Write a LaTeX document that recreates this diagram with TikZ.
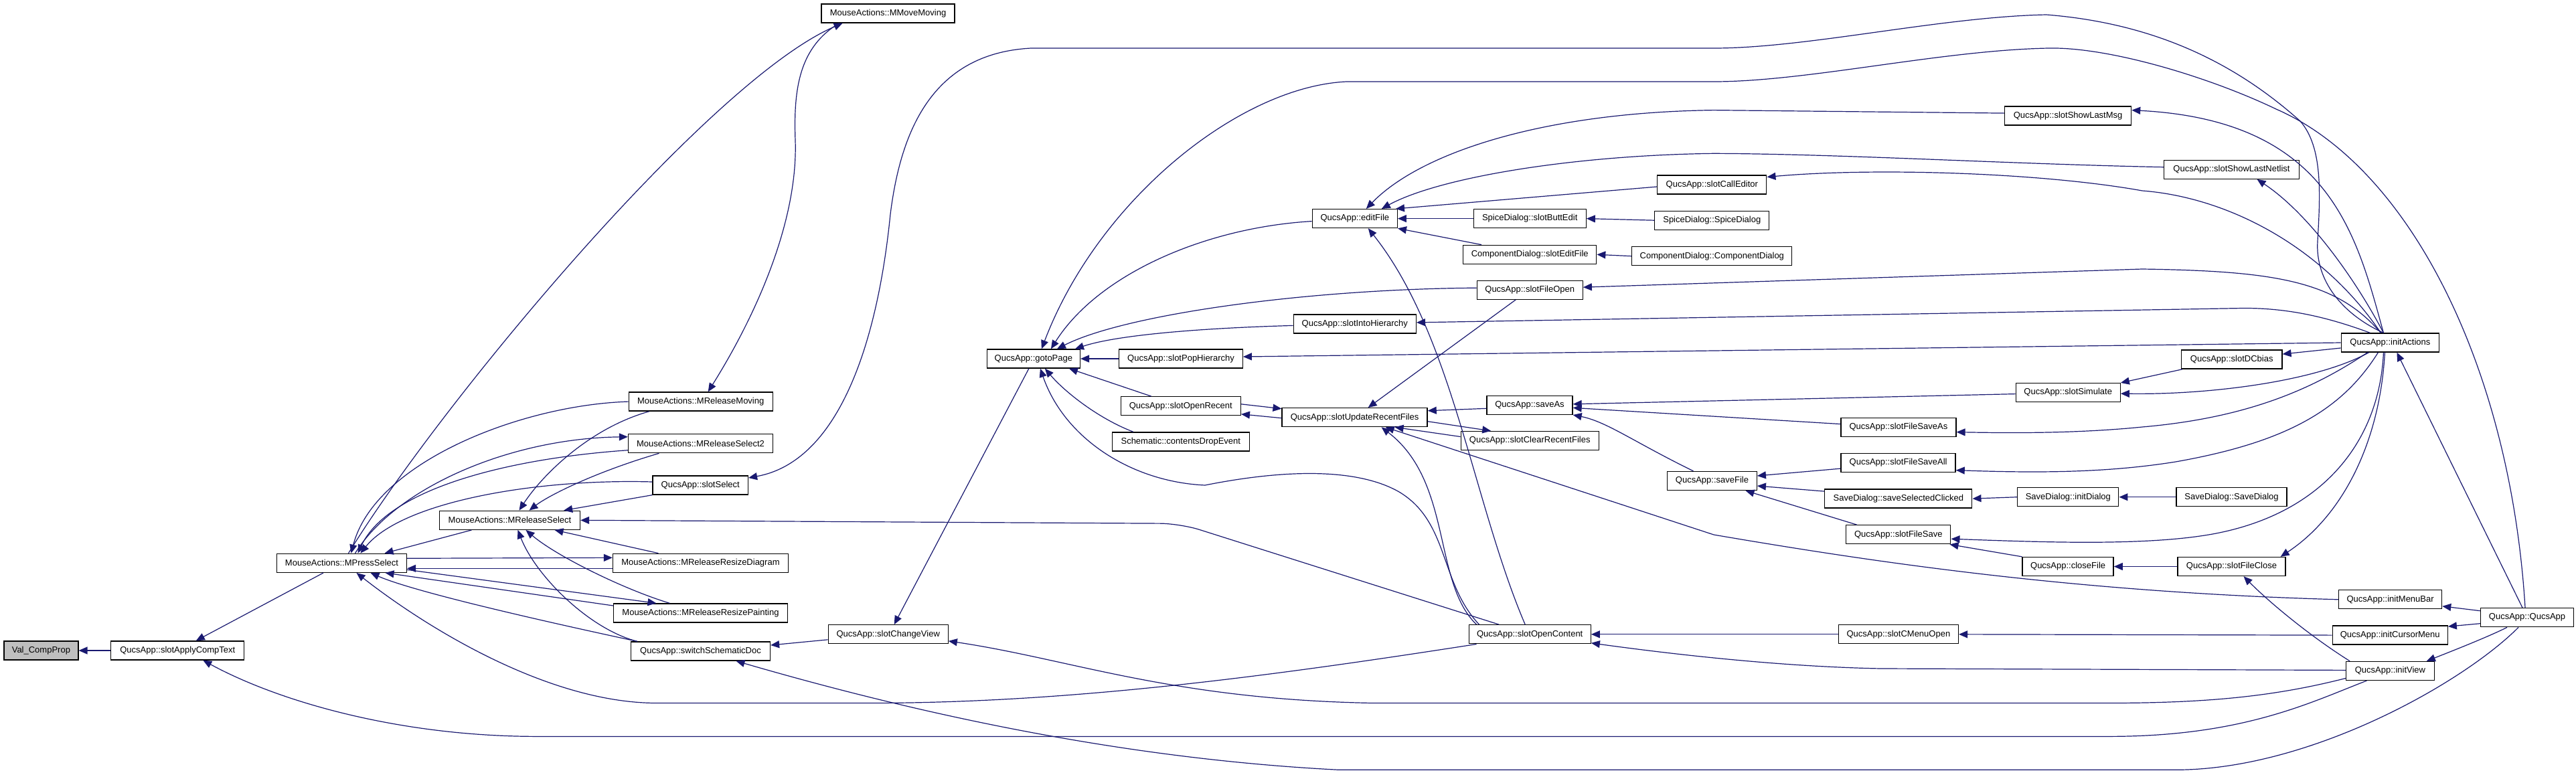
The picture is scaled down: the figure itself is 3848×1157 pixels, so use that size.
\documentclass[tikz,border=0pt]{standalone}
\usepackage{fontspec}
\setmainfont{Liberation Sans}
\usetikzlibrary{arrows.meta}
\definecolor{edgec}{RGB}{25,25,112}
\begin{document}
\begin{tikzpicture}[x=1pt,y=-1pt,
  box/.style={draw=black, line width=1.3pt, fill=white, minimum height=28pt, inner sep=0pt, font=\fontsize{13}{15}\selectfont},
  e/.style={draw=edgec, line width=1.2pt, -{Triangle[length=13pt,width=11pt]}}]
\useasboundingbox (0,0) rectangle (3848,1157);
\fill[white] (0,0) rectangle (3848,1157);
% nodes
\node[box, minimum width=111pt, fill=gray!50] (val) at (61.4,972) {Val\_CompProp};
\node[box, minimum width=199pt] (sACT) at (265.3,972) {QucsApp::slotApplyCompText};
\node[box, minimum width=194pt] (mps) at (510.5,841.3) {MouseActions::MPressSelect};
\node[box, minimum width=199pt] (mmm) at (1326.6,20) {MouseActions::MMoveMoving};
\node[box, minimum width=215pt] (mrm) at (1046.7,600.1) {MouseActions::MReleaseMoving};
\node[box, minimum width=216pt] (mrs2) at (1046.5,662.7) {MouseActions::MReleaseSelect2};
\node[box, minimum width=142.5pt] (ssel) at (1046.2,725) {QucsApp::slotSelect};
\node[box, minimum width=210pt] (mrs) at (761.5,777.3) {MouseActions::MReleaseSelect};
\node[box, minimum width=262pt] (mrrd) at (1046.5,841.3) {MouseActions::MReleaseResizeDiagram};
\node[box, minimum width=260pt] (mrrp) at (1046.5,916) {MouseActions::MReleaseResizePainting};
\node[box, minimum width=208pt] (ssd) at (1046.5,973) {QucsApp::switchSchematicDoc};
\node[box, minimum width=179pt] (scv) at (1326.7,947.8) {QucsApp::slotChangeView};
\node[box, minimum width=139pt] (gtp) at (1543.9,536) {QucsApp::gotoPage};
\node[box, minimum width=184.5pt] (sph) at (1764,536) {QucsApp::slotPopHierarchy};
\node[box, minimum width=179pt] (sor) at (1763.8,606.8) {QucsApp::slotOpenRecent};
\node[box, minimum width=205pt] (cde) at (1763.8,659.9) {Schematic::contentsDropEvent};
\node[box, minimum width=217pt] (urf) at (2023.6,623.7) {QucsApp::slotUpdateRecentFiles};
\node[box, minimum width=127pt] (ef) at (2023.8,326.6) {QucsApp::editFile};
\node[box, minimum width=168pt] (sbe) at (2285.2,326.6) {SpiceDialog::slotButtEdit};
\node[box, minimum width=199pt] (cdsef) at (2285.2,380.3) {ComponentDialog::slotEditFile};
\node[box, minimum width=158pt] (sfo) at (2285.2,433.2) {QucsApp::slotFileOpen};
\node[box, minimum width=183pt] (sih) at (2023.8,483.9) {QucsApp::slotIntoHierarchy};
\node[box, minimum width=163pt] (sce) at (2557.3,276) {QucsApp::slotCallEditor};
\node[box, minimum width=171pt] (sdsd) at (2557.3,329.2) {SpiceDialog::SpiceDialog};
\node[box, minimum width=239pt] (cdcd) at (2557.3,382.7) {ComponentDialog::ComponentDialog};
\node[box, minimum width=128pt] (sas) at (2285,605.3) {QucsApp::saveAs};
\node[box, minimum width=206pt] (scrf) at (2285.2,658.5) {QucsApp::slotClearRecentFiles};
\node[box, minimum width=182pt] (soc) at (2285.2,947.8) {QucsApp::slotOpenContent};
\node[box, minimum width=133.5pt] (sf) at (2557.5,718.5) {QucsApp::saveFile};
\node[box, minimum width=189pt] (sslm) at (3089.1,173.1) {QucsApp::slotShowLastMsg};
\node[box, minimum width=156pt] (ssim) at (3089.2,586.6) {QucsApp::slotSimulate};
\node[box, minimum width=172pt] (sfsa) at (2835.9,638.6) {QucsApp::slotFileSaveAs};
\node[box, minimum width=171pt] (sfsall) at (2835.6,691.6) {QucsApp::slotFileSaveAll};
\node[box, minimum width=220pt] (ssc) at (2835.8,745.1) {SaveDialog::saveSelectedClicked};
\node[box, minimum width=151pt] (sdid) at (3089.3,742.7) {SaveDialog::initDialog};
\node[box, minimum width=156pt] (sfs) at (2835.8,798.8) {QucsApp::slotFileSave};
\node[box, minimum width=136pt] (cf) at (3089.1,846.5) {QucsApp::closeFile};
\node[box, minimum width=179pt] (scmo) at (2835.9,947.8) {QucsApp::slotCMenuOpen};
\node[box, minimum width=202pt] (ssln) at (3333.5,253.2) {QucsApp::slotShowLastNetlist};
\node[box, minimum width=146.4pt] (ia) at (3570.4,512) {QucsApp::initActions};
\node[box, minimum width=150.4pt] (sdc) at (3333.7,537.1) {QucsApp::slotDCbias};
\node[box, minimum width=165pt] (sdsd2) at (3333.5,742.7) {SaveDialog::SaveDialog};
\node[box, minimum width=161pt] (sfc) at (3333.5,846.5) {QucsApp::slotFileClose};
\node[box, minimum width=154pt] (imb) at (3570.6,895.8) {QucsApp::initMenuBar};
\node[box, minimum width=139pt] (qa) at (3775,922.7) {QucsApp::QucsApp};
\node[box, minimum width=172pt] (icm) at (3570.2,949.1) {QucsApp::initCursorMenu};
\node[box, minimum width=131.4pt] (iv) at (3570.4,1002.4) {QucsApp::initView};
% edges
\draw[e] (sACT) -- (val);
\draw[e] (mps) -- (sACT);
\draw[e] ([xshift=-35pt]iv.south) .. controls (3450,1050) and (3350,1100.4) .. (3150,1100.4) -- (800,1100.4) .. controls (600,1100) and (420,1050) .. ([xshift=38pt]sACT.south);
\draw[e] ([yshift=-11pt]iv.west) .. controls (3400,1040) and (3300,1050.5) .. (3150,1050.5) -- (2050,1050.5) .. controls (1750,1045) and (1600,985) .. ([yshift=-10pt]scv.east);
\draw[e] ([xshift=-13pt]qa.south) .. controls (3680,1020) and (3450,1150.3) .. (3250,1150.3) -- (2000,1150.3) .. controls (1700,1135) and (1400,1075) .. ([xshift=53pt]ssd.south);
\draw[e] ([xshift=10pt]mps.north) .. controls (660,600) and (1060,120) .. ([xshift=-68pt]mmm.south);
\draw[e] ([xshift=-73pt]mmm.south) .. controls (1195,70) and (1185,130) .. (1188,210) .. controls (1192,330) and (1130,470) .. ([xshift=11pt]mrm.north);
\draw[e] (mrm.west) .. controls (780,605) and (560,690) .. ([xshift=14pt]mps.north);
\draw[e] ([xshift=20pt]mps.north) .. controls (590,730) and (760,655) .. ([yshift=10pt]mrs2.west);
\draw[e] ([yshift=-10pt]mrs2.west) .. controls (760,685) and (580,730) .. ([xshift=24pt]mps.north);
\draw[e] ([yshift=5pt]ssel.west) .. controls (800,715) and (600,750) .. ([xshift=28pt]mps.north);
\draw[e] ([xshift=-57pt]mrs.south) -- ([xshift=64pt]mps.north);
\draw[e] ([yshift=7pt]mps.east) -- ([yshift=8pt]mrrd.west);
\draw[e] ([yshift=-8pt]mrrd.west) -- ([yshift=-8pt]mps.east);
\draw[e] ([yshift=-10pt]mps.east) -- ([xshift=-66pt]mrrp.north);
\draw[e] ([yshift=11pt]mrrp.west) -- ([xshift=65pt]mps.south);
\draw[e] ([xshift=10pt]ssd.north west) .. controls (820,930) and (620,885) .. ([xshift=43pt]mps.south);
\draw[e] ([xshift=12pt]soc.south west) .. controls (1900,1010) and (1600,1050.5) .. (1300,1050.5) -- (980,1050.5) .. controls (820,1050) and (640,940) .. ([xshift=22pt]mps.south);
\draw[e] ([xshift=-77pt]mrm.south) .. controls (880,640) and (810,710) .. ([xshift=14pt]mrs.north);
\draw[e] ([xshift=-62pt]mrs2.south) .. controls (890,705) and (820,740) .. ([xshift=29pt]mrs.north);
\draw[e] (ssel.south west) -- ([xshift=-25pt]mrs.north east);
\draw[e, rounded corners=30pt] ([xshift=-46pt]soc.north) -- (1763,782.3) -- (mrs.east);
\draw[e] ([xshift=-63pt]mrrd.north) -- ([xshift=67pt]mrs.south);
\draw[e] ([xshift=-46pt]mrrp.north) .. controls (930,880) and (830,830) .. ([xshift=24pt]mrs.south);
\draw[e] ([xshift=10pt]ssd.north west) .. controls (880,940) and (800,860) .. ([xshift=12pt]mrs.south);
\draw[e] ([xshift=-10pt]ia.north) .. controls (3500,470) and (3458,420) .. (3462,360) .. controls (3466,290) and (3470,220) .. (3436,181) .. controls (3340,95) and (3220,35) .. (3057,22) .. controls (2900,25) and (2700,72) .. (2560,72) -- (1540,72) .. controls (1390,80) and (1345,200) .. (1330,320) .. controls (1310,520) and (1250,690) .. ([yshift=11pt]ssel.east);
\draw[e] ([yshift=-8pt]scv.west) -- ([yshift=9pt]ssd.east);
\draw[e] ([xshift=-7pt]gtp.south) -- ([xshift=9pt]scv.north);
\draw[e] ([xshift=-3pt]qa.north) .. controls (3750,550) and (3600,250) .. (3400,163) .. controls (3300,115) and (3150,70) .. (3060,72) .. controls (2900,75) and (2700,122) .. (2560,122) -- (2011,122) .. controls (1850,130) and (1640,300) .. ([xshift=12pt]gtp.north);
\draw[e] ([yshift=-4pt]ef.west) .. controls (1800,340) and (1640,410) .. ([xshift=26pt]gtp.north);
\draw[e] ([yshift=3pt]sfo.west) .. controls (1950,432) and (1680,470) .. ([xshift=35pt]gtp.north);
\draw[e] ([yshift=-2.5pt]sih.west) .. controls (1800,490) and (1670,500) .. ([xshift=62pt]gtp.north);
\draw[e] (sph.west) -- (gtp.east);
\draw[e] (ia.west) -- ([yshift=3pt]sph.east);
\draw[e] ([xshift=16pt]soc.north west) .. controls (2150,870) and (2165,780) .. (2090,735) .. controls (2020,695) and (1900,705) .. (1800,725) .. controls (1690,720) and (1590,655) .. ([xshift=10pt]gtp.south);
\draw[e] ([xshift=-71pt]cde.north) .. controls (1640,625) and (1590,585) .. ([xshift=17pt]gtp.south);
\draw[e] ([xshift=-44pt]sor.north) -- ([xshift=53pt]gtp.south);
\draw[e] ([yshift=3pt]sor.east) -- ([yshift=13pt]urf.west);
\draw[e] ([yshift=-1pt]urf.west) -- ([yshift=-12pt]sor.east);
\draw[e] ([xshift=-21pt]sfo.south) -- ([xshift=20pt]urf.north);
\draw[e] ([yshift=-5pt]sas.west) -- ([yshift=10pt]urf.east);
\draw[e] ([yshift=-6pt]urf.east) -- ([xshift=-58pt]scrf.north);
\draw[e] ([yshift=6pt]scrf.west) -- ([xshift=60pt]urf.south);
\draw[e] ([xshift=12pt]soc.north west) .. controls (2140,870) and (2170,720) .. ([xshift=40pt]urf.south);
\draw[e] (imb.west) .. controls (3100,885) and (2800,840) .. (2560,799) -- ([xshift=46pt]urf.south);
\draw[e] ([yshift=4pt]sslm.west) -- (2560,164.6) .. controls (2300,168) and (2120,230) .. ([xshift=17pt]ef.north);
\draw[e] ([yshift=3.5pt]ssln.west) .. controls (3000,245) and (2750,230) .. (2560,229.3) .. controls (2350,232) and (2150,265) .. ([xshift=40pt]ef.north);
\draw[e] ([yshift=-3pt]sce.west) -- ([xshift=-3pt]ef.north east);
\draw[e] (sbe.west) -- (ef.east);
\draw[e] ([xshift=28pt]cdsef.north west) -- (ef.south east);
\draw[e] ([xshift=-7pt]soc.north) .. controls (2200,750) and (2170,500) .. ([xshift=20pt]ef.south);
\draw[e] (sdsd.west) -- (sbe.east);
\draw[e] (cdcd.west) -- (cdsef.east);
\draw[e] ([xshift=-14pt]ia.north) .. controls (3470,370) and (3330,295) .. (3200,285) .. controls (3050,258) and (2800,250) .. ([yshift=11.5pt]sce.east);
\draw[e] ([xshift=-10pt]ia.north) .. controls (3520,350) and (3480,180) .. ([yshift=8.5pt]sslm.east);
\draw[e] ([xshift=-10pt]ia.north) .. controls (3520,420) and (3450,320) .. ([xshift=38pt]ssln.south);
\draw[e] ([xshift=-14pt]ia.north) .. controls (3490,420) and (3400,405) .. (3200,402) -- ([yshift=4pt]sfo.east);
\draw[e] ([xshift=-30pt]ia.north) .. controls (3480,475) and (3420,460) .. (3350,460.5) -- ([yshift=2pt]sih.east);
\draw[e] ([yshift=-2pt]ssim.west) -- ([yshift=1.5pt]sas.east);
\draw[e] ([yshift=5pt]sfsa.west) -- ([yshift=-4pt]sas.east);
\draw[e] ([xshift=-28pt]sf.north) .. controls (2440,660) and (2400,630) .. (sas.south east);
\draw[e] ([yshift=-8.5pt]sfsall.west) -- ([yshift=7.5pt]sf.east);
\draw[e] ([yshift=11pt]ssc.west) -- ([yshift=-7.5pt]sf.east);
\draw[e] ([xshift=-62pt]sfs.north) -- ([xshift=50pt]sf.south);
\draw[e] (sdid.west) -- (ssc.east);
\draw[e] (sdsd2.west) -- (sdid.east);
\draw[e] ([xshift=-10pt]ia.south) .. controls (3555,650) and (3480,760) .. (3320,795) .. controls (3220,817) and (3050,810) .. ([yshift=-6.4pt]sfs.east);
\draw[e] (cf.north west) -- ([xshift=-2pt]sfs.south east);
\draw[e] (sfc.west) -- (cf.east);
\draw[e] ([xshift=-8pt]ia.south) .. controls (3555,660) and (3500,770) .. ([xshift=-8pt]sfc.north east);
\draw[e] ([xshift=6pt]iv.north west) .. controls (3450,950) and (3390,900) .. ([xshift=18pt]sfc.south);
\draw[e] ([xshift=-18pt]ia.south) .. controls (3500,610) and (3420,660) .. (3250,690) .. controls (3150,706) and (3050,707) .. ([yshift=-11pt]sfsall.east);
\draw[e] ([xshift=40pt]ia.south west) .. controls (3450,585) and (3350,625) .. (3200,638) .. controls (3100,648) and (3000,647) .. ([yshift=-7pt]sfsa.east);
\draw[e] ([xshift=42pt]ia.south west) .. controls (3460,570) and (3300,590) .. ([yshift=-1.5pt]ssim.east);
\draw[e] ([yshift=-8pt]ia.west) -- ([yshift=8pt]sdc.east);
\draw[e] ([xshift=2pt]sdc.south west) -- (ssim.north east);
\draw[e] ([xshift=-7pt]qa.north) -- ([xshift=10pt]ia.south);
\draw[e] ([yshift=10pt]qa.west) -- ([yshift=-10pt]imb.east);
\draw[e] ([yshift=-9pt]qa.west) -- ([yshift=13pt]icm.east);
\draw[e] ([xshift=-30pt]qa.south) .. controls (3720,950) and (3670,970) .. ([xshift=-12pt]iv.north east);
\draw[e] (icm.west) -- (scmo.east);
\draw[e] (scmo.west) -- (soc.east);
\draw[e] ([yshift=1pt]iv.west) -- (2810,999) .. controls (2650,996) and (2480,975) .. ([yshift=-13pt]soc.east);
\end{tikzpicture}
\end{document}
